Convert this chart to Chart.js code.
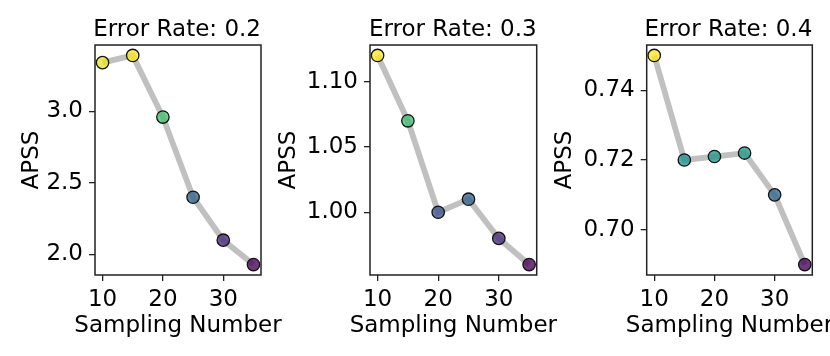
<!DOCTYPE html>
<html><head><meta charset="utf-8">
<script src="https://cdn.jsdelivr.net/npm/chart.js@4"></script>
<style>
html,body{margin:0;padding:0;background:#fff;}
#wrap{position:relative;width:830px;height:356px;background:#fff;}
canvas{position:absolute;left:0;top:0;}
</style></head><body>
<div id="wrap">
<canvas id="c1" width="830" height="356"></canvas>
<canvas id="c2" width="830" height="356"></canvas>
<canvas id="c3" width="830" height="356"></canvas>
</div>
<script>
// ---- data ----
const samplingNumbers = [10, 15, 20, 25, 30, 35];
const apssRate02 = [3.34, 3.39, 2.96, 2.40, 2.10, 1.93];
const apssRate03 = [1.12, 1.07, 1.00, 1.01, 0.98, 0.96];
const apssRate04 = [0.75, 0.72, 0.721, 0.722, 0.71, 0.69];
const panelTitles = ['Error Rate: 0.2', 'Error Rate: 0.3', 'Error Rate: 0.4'];
const xTickValues = [10, 20, 30];
const yTicksRate02 = [2.0, 2.5, 3.0];
const yTicksRate03 = [1.00, 1.05, 1.10];
const yTicksRate04 = [0.70, 0.72, 0.74];
const xAxisTitle = 'Sampling Number';
const yAxisTitle = 'APSS';

// ---- viridis colormap ----
const VIRIDIS = ['#440154','#482475','#414487','#355f8d','#2a788e','#21918c','#22a884','#44bf70','#7ad151','#bddf26','#fde725'];
function hexToRgb(h){return [parseInt(h.substr(1,2),16),parseInt(h.substr(3,2),16),parseInt(h.substr(5,2),16)];}
function viridis(t, a){
  t = Math.max(0, Math.min(1, t));
  const p = t * (VIRIDIS.length - 1);
  const i = Math.min(Math.floor(p), VIRIDIS.length - 2);
  const f = p - i;
  const c0 = hexToRgb(VIRIDIS[i]), c1 = hexToRgb(VIRIDIS[i+1]);
  const c = c0.map((v,k)=>Math.round(v + (c1[k]-v)*f));
  return `rgba(${c[0]},${c[1]},${c[2]},${a})`;
}

const FONT = 'DejaVu Sans';
const FS = 23;

const framePlugin = {
  id: 'frame',
  afterDatasetsDraw(chart){
    const {ctx, chartArea: a} = chart;
    ctx.save();
    ctx.strokeStyle = '#222';
    ctx.lineWidth = 1.5;
    ctx.strokeRect(a.left, a.top, a.right - a.left, a.bottom - a.top);
    ctx.restore();
  }
};

// x-axis title drawn without Chart.js's maxWidth squeeze (the label is wider than the axis)
const xTitlePlugin = {
  id: 'xTitle',
  afterDraw(chart){
    const {ctx, chartArea: a} = chart;
    ctx.save();
    ctx.font = `${FS}px "${FONT}"`;
    ctx.fillStyle = '#000';
    ctx.textAlign = 'center';
    ctx.textBaseline = 'middle';
    ctx.fillText(xAxisTitle, (a.left + a.right) / 2, a.bottom + 51);
    ctx.restore();
  }
};

const panels = [
  {id:'c1', title: panelTitles[0], values: apssRate02, yTicks: yTicksRate02, dec: 1, left: 95, right: 261, apssX: 32},
  {id:'c2', title: panelTitles[1], values: apssRate03, yTicks: yTicksRate03, dec: 2, left: 370, right: 536.7, apssX: 289},
  {id:'c3', title: panelTitles[2], values: apssRate04, yTicks: yTicksRate04, dec: 2, left: 646.7, right: 812.3, apssX: 565}
];

const W = 830, H = 356;
const halfLH = FS * 1.2 / 2;
const chartTop = 45, chartBottom = 275, xAxisBottom = 336.7;

panels.forEach(p => {
  const vmin = Math.min(...p.values), vmax = Math.max(...p.values);
  const vr = vmax - vmin;
  const xmin = Math.min(...samplingNumbers), xmax = Math.max(...samplingNumbers);
  const xr = xmax - xmin;
  const padLeft = p.apssX - halfLH;
  const yWidth = p.left - padLeft;
  const xHeight = xAxisBottom - chartBottom;
  const colors = p.values.map(v => viridis((v - vmin) / vr, 0.78));

  new Chart(document.getElementById(p.id), {
    type: 'line',
    data: {
      datasets: [{
        data: samplingNumbers.map((x, i) => ({x, y: p.values[i]})),
        borderColor: '#c0c0c0',
        borderWidth: 5.8,
        tension: 0,
        pointRadius: 6.2,
        pointHoverRadius: 6.2,
        pointBackgroundColor: colors,
        pointBorderColor: '#111',
        pointBorderWidth: 1.3,
        clip: false
      }]
    },
    options: {
      responsive: false,
      animation: false,
      devicePixelRatio: 1,
      events: [],
      layout: { padding: { left: padLeft, right: W - p.right, top: 0, bottom: H - xAxisBottom } },
      plugins: {
        legend: { display: false },
        tooltip: { enabled: false },
        title: {
          display: true, text: p.title, align: 'end', color: '#000',
          font: { family: FONT, size: FS, weight: 'normal', lineHeight: 1.2 },
          padding: { top: 16, bottom: chartTop - 2*halfLH - 16 }
        }
      },
      scales: {
        x: {
          type: 'linear',
          min: xmin - 0.05 * xr, max: xmax + 0.05 * xr,
          afterBuildTicks: s => { s.ticks = xTickValues.map(v => ({value: v})); },
          afterFit: s => { s.height = xHeight; },
          ticks: { color: '#000', font: { family: FONT, size: FS }, padding: 5, autoSkip: false, maxRotation: 0,
                   callback: v => String(v) },
          grid: { display: true, drawOnChartArea: false, drawTicks: true, tickLength: 6, color: '#222', lineWidth: 1.3 },
          border: { display: false },
          title: { display: false }
        },
        y: {
          type: 'linear',
          min: vmin - 0.05 * vr, max: vmax + 0.05 * vr,
          afterBuildTicks: s => { s.ticks = p.yTicks.map(v => ({value: v})); },
          afterFit: s => { s.width = yWidth; },
          ticks: { color: '#000', font: { family: FONT, size: FS }, padding: 6, autoSkip: false,
                   callback: v => Number(v).toFixed(p.dec) },
          grid: { display: true, drawOnChartArea: false, drawTicks: true, tickLength: 6, color: '#222', lineWidth: 1.3 },
          border: { display: false },
          title: { display: true, text: yAxisTitle, color: '#000', font: { family: FONT, size: FS, lineHeight: 1.2 }, padding: 0 }
        }
      }
    },
    plugins: [framePlugin, xTitlePlugin]
  });
});
</script>
</body></html>
